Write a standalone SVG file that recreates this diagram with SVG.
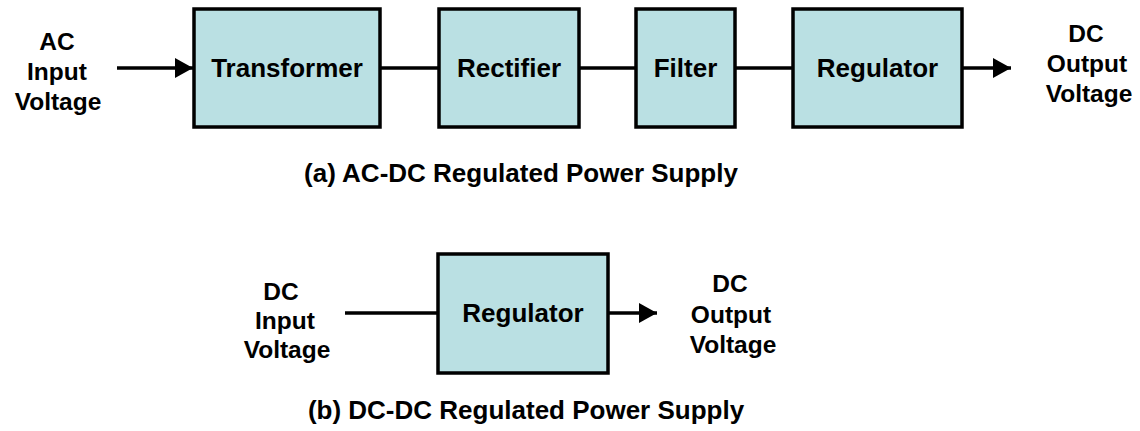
<svg xmlns="http://www.w3.org/2000/svg" width="1140" height="431" viewBox="0 0 1140 431">
<style>
.box{fill:#BAE0E3;stroke:#000;stroke-width:3.5}
.lbl{font-family:"Liberation Sans",Arial,sans-serif;font-weight:bold;font-size:26px;fill:#000;text-anchor:middle}
.side{font-family:"Liberation Sans",Arial,sans-serif;font-weight:bold;font-size:24.5px;fill:#000;text-anchor:middle}
.wire{stroke:#000;stroke-width:3.5;fill:none}
</style>
<defs>
<marker id="ah" markerUnits="userSpaceOnUse" markerWidth="20" markerHeight="22" refX="18" refY="10" orient="auto" viewBox="0 0 20 20">
<path d="M0,0 L18,10 L0,20 Z" fill="#000"/>
</marker>
</defs>
<rect width="1140" height="431" fill="#fff"/>
<g id="connectors">
<line class="wire" x1="117" y1="68" x2="193" y2="68" marker-end="url(#ah)"/>
<line class="wire" x1="380" y1="68" x2="439" y2="68"/>
<line class="wire" x1="579" y1="68" x2="636" y2="68"/>
<line class="wire" x1="735" y1="68" x2="793" y2="68"/>
<line class="wire" x1="962" y1="68" x2="1011" y2="68" marker-end="url(#ah)"/>
<line class="wire" x1="345" y1="313" x2="438" y2="313"/>
<line class="wire" x1="608" y1="313" x2="657" y2="313" marker-end="url(#ah)"/>
</g>
<g id="ac-input">
<text class="side" x="57" y="50">AC</text>
<text class="side" x="57" y="80">Input</text>
<text class="side" x="58" y="110">Voltage</text>
</g>
<g id="transformer">
<rect class="box" x="194" y="9" width="186" height="118"/>
<text class="lbl" x="287" y="77">Transformer</text>
</g>
<g id="rectifier">
<rect class="box" x="439" y="9" width="140" height="118"/>
<text class="lbl" x="509" y="77">Rectifier</text>
</g>
<g id="filter">
<rect class="box" x="636" y="9" width="99" height="118"/>
<text class="lbl" x="685.5" y="77">Filter</text>
</g>
<g id="regulator-a">
<rect class="box" x="793" y="9" width="169" height="118"/>
<text class="lbl" x="877.5" y="77">Regulator</text>
</g>
<g id="dc-output-a">
<text class="side" x="1086" y="42">DC</text>
<text class="side" x="1087" y="72">Output</text>
<text class="side" x="1089" y="102">Voltage</text>
</g>
<g id="caption-a">
<text class="lbl" x="521" y="182">(a) AC-DC Regulated Power Supply</text>
</g>
<g id="dc-input-b">
<text class="side" x="281" y="300">DC</text>
<text class="side" x="285" y="329">Input</text>
<text class="side" x="287" y="358">Voltage</text>
</g>
<g id="regulator-b">
<rect class="box" x="438" y="254" width="170" height="119"/>
<text class="lbl" x="523" y="322">Regulator</text>
</g>
<g id="dc-output-b">
<text class="side" x="730" y="292">DC</text>
<text class="side" x="731" y="323">Output</text>
<text class="side" x="733" y="353">Voltage</text>
</g>
<g id="caption-b">
<text class="lbl" x="526" y="419">(b) DC-DC Regulated Power Supply</text>
</g>
</svg>
